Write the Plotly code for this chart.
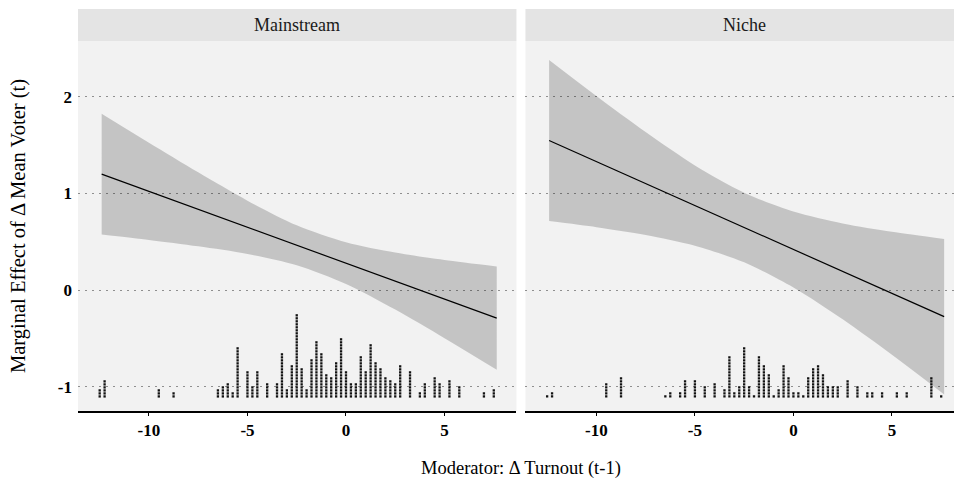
import plotly.graph_objects as go

# ---------------- data ----------------
x_grid = [-12.4, -10.0, -7.5, -5.0, -2.5, 0.0, 2.5, 5.0, 7.65]

main_est = [1.200, 1.022, 0.836, 0.650, 0.464, 0.279, 0.093, -0.093, -0.290]
main_upper = [1.825, 1.525, 1.219, 0.926, 0.671, 0.495, 0.388, 0.312, 0.245]
main_lower = [0.575, 0.519, 0.453, 0.374, 0.257, 0.063, -0.202, -0.498, -0.825]

niche_est = [1.548, 1.330, 1.103, 0.875, 0.648, 0.421, 0.194, -0.033, -0.275]
niche_upper = [2.382, 2.009, 1.636, 1.291, 1.009, 0.814, 0.690, 0.604, 0.530]
niche_lower = [0.714, 0.651, 0.570, 0.459, 0.287, 0.028, -0.302, -0.670, -1.080]

main_bins = [-12.5, -12.25, -9.5, -8.75, -6.5, -6.25, -6.0, -5.75, -5.5, -5.0, -4.75, -4.5,
             -4.0, -3.5, -3.25, -3.0, -2.75, -2.5, -2.25, -2.0, -1.75, -1.5, -1.25, -1.0,
             -0.75, -0.5, -0.25, 0.0, 0.25, 0.5, 0.75, 1.0, 1.25, 1.5, 1.75, 2.0,
             2.25, 2.5, 2.75, 3.25, 3.75, 4.0, 4.5, 4.75, 5.25, 5.75, 7.0, 7.5]
main_counts = [3, 6, 3, 2, 3, 4, 5, 2, 17, 9, 4, 9,
               5, 5, 15, 3, 11, 28, 10, 3, 13, 19, 15, 8,
               7, 12, 20, 9, 5, 5, 14, 9, 18, 12, 10, 7,
               6, 5, 11, 9, 2, 5, 7, 5, 6, 4, 2, 3]

niche_bins = [-12.5, -12.25, -9.5, -8.75, -6.5, -6.25, -5.75, -5.5, -5.0, -4.5, -4.0, -3.5,
              -3.25, -3.0, -2.75, -2.5, -2.25, -2.0, -1.75, -1.5, -1.25, -1.0, -0.75, -0.5,
              -0.25, 0.0, 0.25, 0.5, 0.75, 1.0, 1.25, 1.5, 1.75, 2.0, 2.25, 2.75,
              3.25, 3.75, 4.0, 4.5, 5.25, 5.75, 7.0, 7.5]
niche_counts = [1, 2, 5, 7, 1, 2, 2, 6, 6, 4, 5, 3,
                14, 2, 4, 17, 4, 1, 14, 11, 8, 1, 3, 11,
                7, 2, 2, 1, 7, 10, 11, 8, 4, 4, 4, 6,
                4, 2, 2, 2, 2, 2, 7, 1]

y_ticks = [-1, 0, 1, 2]
y_tick_labels = ["-1", "0", "1", "2"]
x_ticks = [-10, -5, 0, 5]
x_tick_labels = ["-10", "-5", "0", "5"]
panel_titles = ["Mainstream", "Niche"]

dot_base = -1.101
dot_step = 0.0311

FONT = "Liberation Serif, Times New Roman, serif"
RIBBON = "rgba(0,0,0,0.19)"

fig = go.Figure()


def add_panel(xa, ya, est, up, lo, bins, counts):
    fig.add_trace(go.Scatter(x=x_grid, y=lo, mode="lines", line=dict(width=0, shape="spline", smoothing=0.8),
                             hoverinfo="skip", showlegend=False, xaxis=xa, yaxis=ya))
    fig.add_trace(go.Scatter(x=x_grid, y=up, mode="lines", line=dict(width=0, shape="spline", smoothing=0.8),
                             fill="tonexty", fillcolor=RIBBON,
                             hoverinfo="skip", showlegend=False, xaxis=xa, yaxis=ya))
    fig.add_trace(go.Scatter(x=x_grid, y=est, mode="lines", line=dict(color="black", width=1.2),
                             showlegend=False, xaxis=xa, yaxis=ya))
    dx, dy = [], []
    for b, c in zip(bins, counts):
        for k in range(c):
            dx.append(b)
            dy.append(dot_base + k * dot_step)
    fig.add_trace(go.Scatter(x=dx, y=dy, mode="markers",
                             marker=dict(symbol="square", size=2.3, color="#111111", line=dict(width=0)),
                             showlegend=False, xaxis=xa, yaxis=ya))


add_panel("x", "y", main_est, main_upper, main_lower, main_bins, main_counts)
add_panel("x2", "y2", niche_est, niche_upper, niche_lower, niche_bins, niche_counts)

dom1 = [0.0, 0.5005]
dom2 = [0.5108, 1.0]

xcommon = dict(tickvals=x_ticks, ticktext=x_tick_labels, showgrid=False, zeroline=False,
               showline=True, linecolor="black", linewidth=2, ticks="outside", ticklen=3,
               tickwidth=1, tickcolor="black",
               tickfont=dict(family=FONT, size=17, color="black", weight="bold"))
ycommon = dict(range=[-1.252, 2.579], tickvals=y_ticks, ticktext=y_tick_labels,
               showgrid=True, gridcolor="#8f8f8f", griddash="2px,5px", gridwidth=1.3,
               zeroline=False, showline=False, ticks="",
               tickfont=dict(family=FONT, size=17, color="black", weight="bold"))

fig.update_layout(
    width=954, height=483,
    margin=dict(l=78, r=0, t=41, b=72),
    paper_bgcolor="white", plot_bgcolor="#F2F2F2",
    xaxis=dict(domain=dom1, range=[-13.6, 8.65], anchor="y", **xcommon),
    xaxis2=dict(domain=dom2, range=[-13.6, 8.15], anchor="y2", **xcommon),
    yaxis=dict(anchor="x", ticklabelstandoff=5, **ycommon),
    yaxis2=dict(anchor="x2", showticklabels=False, **ycommon),
    showlegend=False,
)

strip_top = 1 + 32 / 370
fig.add_shape(type="rect", xref="paper", yref="paper", x0=dom1[0], x1=dom1[1], y0=1, y1=strip_top,
              fillcolor="#E4E4E4", line=dict(width=0), layer="below")
fig.add_shape(type="rect", xref="paper", yref="paper", x0=dom2[0], x1=1.02, y0=1, y1=strip_top,
              fillcolor="#E4E4E4", line=dict(width=0), layer="below")

fig.add_annotation(text=panel_titles[0], xref="paper", yref="paper", x=(dom1[0] + dom1[1]) / 2,
                   y=(1 + strip_top) / 2, showarrow=False, xanchor="center", yanchor="middle",
                   font=dict(family=FONT, size=18, color="#1a1a1a"))
fig.add_annotation(text=panel_titles[1], xref="paper", yref="paper", x=(744.5 - 78) / 876,
                   y=(1 + strip_top) / 2, showarrow=False, xanchor="center", yanchor="middle",
                   font=dict(family=FONT, size=18, color="#1a1a1a"))

fig.add_annotation(text="Moderator: \u0394 Turnout (t-1)", xref="paper", yref="paper",
                   x=(520.7 - 78) / 876, y=(411 - 468) / 370, showarrow=False,
                   xanchor="center", yanchor="middle", font=dict(family=FONT, size=18.5, color="black"))
fig.add_annotation(text="Marginal Effect of \u0394 Mean Voter (t)", xref="paper", yref="paper",
                   x=(18 - 78) / 876, y=0.5, showarrow=False, textangle=-90,
                   xanchor="center", yanchor="middle", font=dict(family=FONT, size=20.5, color="black"))

fig.write_html("out.html")
